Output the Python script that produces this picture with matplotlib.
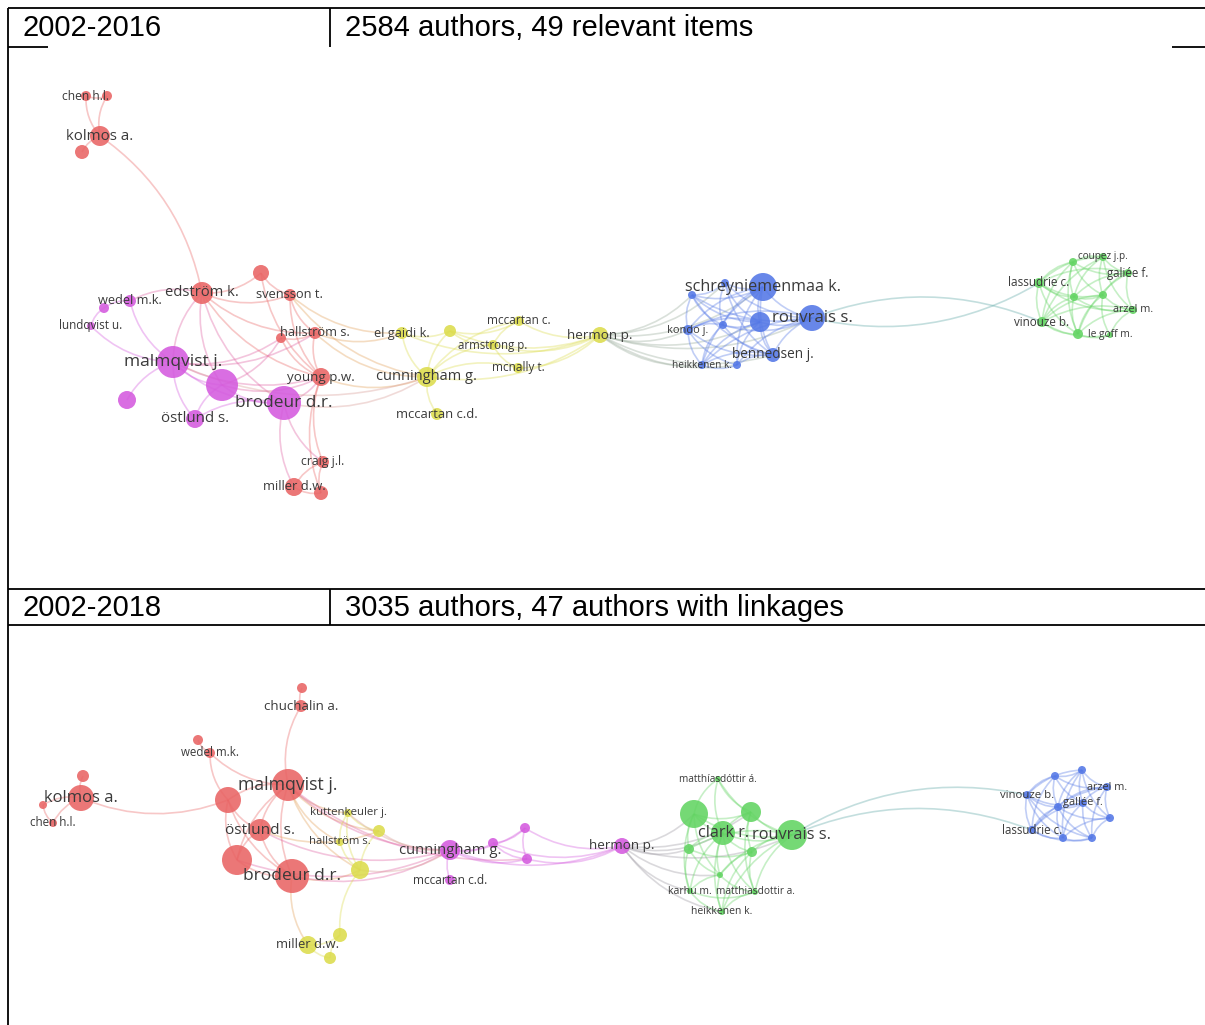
"""
Co-authorship maps (VOSviewer style) for two periods, drawn in a two-row table frame.
"""
import matplotlib
matplotlib.use("Agg")
import matplotlib.pyplot as plt
import numpy as np
from matplotlib.colors import to_rgb
from matplotlib.patches import PathPatch
from matplotlib.path import Path

plt.rcParams['font.family'] = ['Open Sans', 'DejaVu Sans']

# ---- table headers ----
periods = ["2002-2016", "2002-2018"]
summaries = ["2584 authors, 49 relevant items", "3035 authors, 47 authors with linkages"]

# ---- 2002-2016 map ----
top_labels = ["chen h.l.", "", "kolmos a.", "", "edström k.", "", "svensson t.", "", "hallström s.",
              "young p.w.", "craig j.l.", "miller d.w.", "", "wedel m.k.", "", "lundqvist u.",
              "malmqvist j.", "", "brodeur d.r.", "", "östlund s.", "el gaidi k.", "", "mccartan c.",
              "armstrong p.", "mcnally t.", "cunningham g.", "mccartan c.d.", "hermon p.", "", "",
              "schreyniemenmaa k.", "", "", "rouvrais s.", "kondo j.", "bennedsen j.", "heikkenen k.",
              "", "coupez j.p.", "", "galiée f.", "lassudrie c.", "", "", "arzel m.", "vinouze b.",
              "", "le goff m."]
top_x = [86, 107, 100, 82, 202, 261, 290, 281, 315, 321, 323, 294, 321, 130, 104, 91, 173, 222, 284,
         127, 195, 402, 450, 519, 493, 518, 427, 437, 600, 692, 725, 763, 723, 760, 812, 688, 773,
         702, 737, 1103, 1073, 1128, 1039, 1074, 1103, 1133, 1042, 1078, 1110]
top_y = [96, 96, 136, 152, 293, 273, 295, 338, 333, 377, 462, 487, 493, 301, 308, 326, 362, 385, 403,
         400, 419, 333, 331, 321, 345, 368, 377, 414, 335, 295, 283, 287, 325, 322, 318, 330, 355,
         365, 365, 257, 262, 273, 283, 297, 295, 310, 322, 334, 335]
top_weight = [5, 5, 10, 7, 11, 8, 6, 5, 6, 9, 6, 9, 7, 6, 5, 4, 16, 16, 17, 9, 9, 6, 6, 5, 5, 5, 10,
              6, 8, 4, 4, 14, 4, 10, 13, 5, 7, 4, 4, 4, 4, 4, 5, 4, 4, 4, 5, 5, 3]
top_label_size = [8.7, 0, 10.8, 0, 10.6, 0, 9.3, 0, 9.2, 9.6, 8.8, 9.3, 0, 9.2, 0, 8.4, 12.5, 0,
                  12.4, 0, 10.8, 9.2, 0, 8.5, 8.3, 8.5, 10.5, 9.4, 9.7, 0, 0, 11.6, 0, 0, 12.1,
                  7.9, 9.8, 7.3, 0, 7.2, 0, 8.3, 8.5, 0, 0, 7.8, 8.4, 0, 7.4]
top_cluster = list("rrrrrrrrrrrrr") + list("mmmmmmmm") + list("yyyyyyyy") + list("bbbbbbbbbb") + \
    list("gggggggggg")
top_edges = [(0, 1), (0, 2), (1, 2), (2, 3), (4, 2), (4, 13), (4, 16), (4, 17), (4, 18), (4, 5),
             (4, 6), (4, 8), (4, 9), (5, 6), (5, 9), (6, 8), (6, 9), (8, 9), (7, 8), (7, 9), (13, 14),
             (14, 15), (15, 16), (13, 16), (16, 17), (16, 18), (16, 19), (16, 20), (17, 18), (17, 20),
             (18, 20), (16, 8), (16, 9), (17, 9), (18, 9), (18, 11), (18, 10), (10, 11), (11, 12),
             (10, 12), (9, 10), (16, 7), (17, 7), (9, 12),
             (6, 21), (6, 26), (8, 26), (9, 26), (18, 26), (8, 21), (16, 26),
             (21, 22), (21, 26), (22, 26), (22, 23), (22, 24), (22, 28), (23, 26), (24, 26), (25, 26),
             (26, 27), (26, 28), (23, 28), (24, 28), (25, 28), (23, 24), (24, 25), (21, 28),
             (28, 29), (28, 30), (28, 31), (28, 33), (28, 34), (28, 35), (28, 36), (28, 37), (28, 38),
             (29, 30), (29, 31), (29, 32), (29, 33), (29, 34), (29, 35), (29, 36), (30, 31), (30, 32),
             (30, 33), (30, 34), (30, 36), (31, 32), (31, 33), (31, 34), (31, 35), (31, 36), (31, 37),
             (31, 38), (32, 33), (32, 34), (32, 35), (32, 36), (32, 37), (33, 34), (33, 35), (33, 36),
             (33, 37), (33, 38), (34, 35), (34, 36), (34, 37), (34, 38), (35, 36), (35, 37), (35, 38),
             (36, 37), (36, 38), (37, 38),
             (34, 42), (46, 34),
             (39, 40), (39, 41), (39, 42), (39, 43), (39, 44), (39, 45), (39, 46), (40, 41), (40, 42),
             (40, 43), (40, 44), (40, 46), (40, 47), (41, 42), (41, 43), (41, 44), (41, 45), (41, 47),
             (42, 43), (42, 44), (42, 46), (42, 47), (42, 45), (43, 44), (43, 45), (43, 46), (43, 47),
             (44, 45), (44, 46), (44, 47), (45, 46), (45, 47), (46, 47), (46, 48), (47, 48), (45, 48),
             (44, 48)]

# ---- 2002-2018 map ----
bot_labels = ["", "chuchalin a.", "", "wedel m.k.", "", "kolmos a.", "", "chen h.l.", "malmqvist j.",
              "", "östlund s.", "", "brodeur d.r.", "kuttenkeuler j.", "", "hallström s.", "",
              "miller d.w.", "", "", "cunningham g.", "", "mccartan c.d.", "", "", "hermon p.",
              "matthíasdóttir á.", "", "", "clark r.", "rouvrais s.", "", "", "", "karhu m.",
              "matthiasdottir a.", "heikkenen k.", "", "", "arzel m.", "vinouze b.", "", "gallée f.",
              "", "lassudrie c.", "", ""]
bot_x = [302, 301, 198, 210, 83, 81, 43, 53, 288, 228, 260, 237, 292, 348, 379, 340, 360, 308, 340,
         330, 450, 493, 450, 525, 527, 622, 718, 694, 751, 723, 792, 689, 752, 720, 690, 755, 722,
         1055, 1082, 1107, 1027, 1058, 1083, 1110, 1032, 1063, 1092]
bot_y = [688, 706, 740, 753, 776, 798, 805, 823, 785, 800, 830, 860, 876, 813, 831, 842, 870, 945,
         935, 958, 850, 843, 880, 828, 859, 846, 779, 814, 812, 833, 835, 849, 852, 875, 891, 892,
         912, 776, 770, 787, 795, 807, 803, 818, 830, 838, 838]
bot_weight = [5, 6, 5, 5, 6, 13, 4, 4, 16, 13, 11, 15, 17, 4, 6, 4, 9, 9, 7, 6, 10, 5, 5, 5, 5, 8,
              3, 14, 10, 12, 15, 5, 5, 3, 3, 3, 3, 4, 4, 4, 4, 4, 4, 4, 4, 4, 4]
bot_label_size = [0, 9.6, 0, 8.3, 0, 12.0, 0, 8.4, 12.7, 0, 11.1, 0, 12.5, 8.2, 0, 8.1, 0, 9.4, 0,
                  0, 10.7, 0, 8.6, 0, 0, 9.7, 7.2, 0, 0, 11.6, 11.8, 0, 0, 0, 7.6, 7.3, 7.5, 0, 0,
                  7.8, 8.2, 0, 7.9, 0, 8.3, 0, 0]
bot_cluster = list("rrrrrrrrrrrrr") + list("yyyyyyy") + list("mmmmmm") + list("ggggggggggg") + \
    list("bbbbbbbbbb")
bot_edges = [(0, 1), (1, 8), (2, 3), (3, 8), (3, 9), (4, 5), (5, 6), (5, 7), (6, 7), (5, 9),
             (8, 9), (8, 10), (8, 11), (8, 12), (9, 10), (9, 11), (9, 12), (10, 11), (10, 12),
             (11, 12), (8, 13), (8, 14), (8, 15), (8, 16), (8, 20), (12, 16), (12, 17), (10, 14),
             (10, 20), (12, 20), (11, 20), (13, 14), (13, 15), (13, 16), (14, 16), (15, 16), (16, 18),
             (17, 18), (17, 19), (18, 19), (14, 20), (16, 20), (13, 20), (8, 24),
             (20, 21), (20, 22), (20, 23), (20, 24), (20, 25), (21, 23), (21, 24), (23, 24), (23, 25),
             (24, 25), (21, 25),
             (25, 27), (25, 29), (25, 31), (25, 33), (25, 34), (25, 30), (25, 36), (25, 28),
             (26, 27), (26, 28), (26, 29), (26, 30), (27, 28), (27, 29), (27, 30), (27, 31), (27, 33),
             (27, 34), (28, 29), (28, 30), (28, 32), (28, 35), (29, 30), (29, 31), (29, 32), (29, 33),
             (29, 34), (29, 35), (29, 36), (30, 31), (30, 32), (30, 33), (30, 35), (30, 36), (31, 32),
             (31, 33), (31, 34), (32, 33), (32, 35), (32, 36), (33, 34), (33, 35), (33, 36), (34, 36),
             (35, 36), (34, 35),
             (40, 30), (44, 30),
             (37, 38), (37, 39), (37, 40), (37, 41), (37, 42), (37, 44), (38, 39), (38, 40), (38, 41),
             (38, 42), (38, 43), (38, 45), (39, 41), (39, 42), (39, 43), (39, 46), (40, 41), (40, 42),
             (40, 44), (40, 45), (41, 42), (41, 43), (41, 44), (41, 45), (41, 46), (42, 43), (42, 44),
             (42, 45), (42, 46), (43, 45), (43, 46), (44, 45), (44, 46), (45, 46), (40, 46), (39, 44)]

COLORS = {'r': '#e96464', 'm': '#d45ade', 'y': '#dcdc4c', 'b': '#5377e6', 'g': '#62d462'}
W, H = 1205, 1025


def draw_map(ax, labels, xs, ys, weights, label_sizes, clusters, edges):
    xs = np.asarray(xs, float)
    ys = np.asarray(ys, float)
    w = np.asarray(weights, float)
    for i, j in edges:
        p0 = np.array([xs[i], ys[i]])
        p1 = np.array([xs[j], ys[j]])
        d = p1 - p0
        ctrl = (p0 + p1) / 2 + 0.2 * np.array([-d[1], d[0]])
        c = (np.array(to_rgb(COLORS[clusters[i]])) + np.array(to_rgb(COLORS[clusters[j]]))) / 2
        path = Path([p0, ctrl, p1], [Path.MOVETO, Path.CURVE3, Path.CURVE3])
        ax.add_patch(PathPatch(path, fc='none', ec=c, lw=1.2, alpha=0.36, zorder=1))
    cols = [COLORS[c] for c in clusters]
    ax.scatter(xs, ys, s=(1.44 * w) ** 2, c=cols, alpha=0.88, linewidths=0, zorder=2)
    for lab, x, y, fs in zip(labels, xs, ys, label_sizes):
        if lab:
            ax.text(x, y, lab, ha='center', va='center', fontsize=fs, color='#3a3a3a', zorder=3)


fig = plt.figure(figsize=(W / 100, H / 100), dpi=100)
ax = fig.add_axes([0, 0, 1, 1])
ax.set_xlim(0, W)
ax.set_ylim(H, 0)
ax.axis('off')

# table frame
line = dict(color='black', lw=1.3, solid_capstyle='butt', zorder=5)
ax.plot([8, W], [8, 8], **line)
ax.plot([8, 48], [47, 47], **line)
ax.plot([1172, W], [47, 47], **line)
ax.plot([8, 8], [8, H], **line)
ax.plot([330, 330], [8, 47], **line)
ax.plot([8, W], [589, 589], **line)
ax.plot([8, W], [625, 625], **line)
ax.plot([330, 330], [589, 625], **line)

for period, summary, yc in zip(periods, summaries, [28, 608]):
    ax.text(22, yc, period, ha='left', va='center', fontsize=21, family='Liberation Sans')
    ax.text(345, yc, summary, ha='left', va='center', fontsize=21, family='Liberation Sans')

draw_map(ax, top_labels, top_x, top_y, top_weight, top_label_size, top_cluster, top_edges)
draw_map(ax, bot_labels, bot_x, bot_y, bot_weight, bot_label_size, bot_cluster, bot_edges)

fig.savefig('out.png', dpi=100, facecolor='white')
